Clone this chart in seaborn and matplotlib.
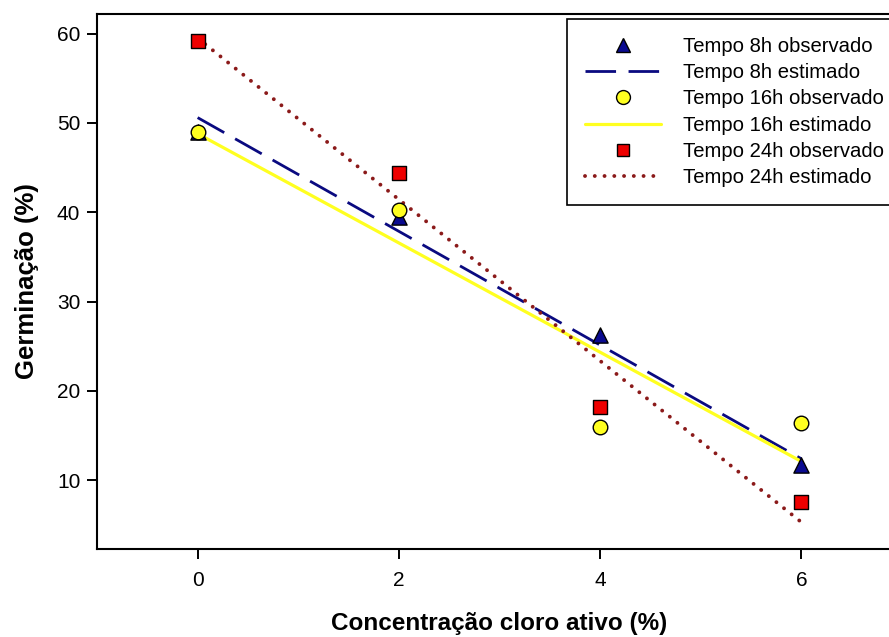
import matplotlib
matplotlib.use("Agg")
import matplotlib.pyplot as plt
import seaborn as sns
import pandas as pd
from matplotlib.lines import Line2D

# ---- data ----
conc = [0, 2, 4, 6]
obs_8h = [49.0, 39.5, 26.3, 11.7]
obs_16h = [49.0, 40.2, 16.0, 16.4]
obs_24h = [59.2, 44.4, 18.2, 7.6]

fit_x = [0, 6]
est_8h = [50.6, 12.4]
est_16h = [48.8, 12.1]
est_24h = [59.5, 5.3]

xticks = [0, 2, 4, 6]
yticks = [10, 20, 30, 40, 50, 60]

labels = ["Tempo 8h observado", "Tempo 8h estimado", "Tempo 16h observado",
          "Tempo 16h estimado", "Tempo 24h observado", "Tempo 24h estimado"]

sns.set_theme(style="ticks")
plt.rcParams['font.family'] = ['Liberation Sans', 'DejaVu Sans']
plt.rcParams['text.color'] = 'black'
plt.rcParams['axes.labelcolor'] = 'black'
plt.rcParams['xtick.color'] = 'black'
plt.rcParams['ytick.color'] = 'black'

W, H = 889, 637
fig = plt.figure(figsize=(W / 100, H / 100), dpi=100)
left, right, top, bottom = 97, 902, 14, 549
ax = fig.add_axes([left / W, (H - bottom) / H, (right - left) / W, (bottom - top) / H])

df_obs = pd.DataFrame({"x": conc, "o8": obs_8h, "o16": obs_16h, "o24": obs_24h})
df_est = pd.DataFrame({"x": fit_x, "e8": est_8h, "e16": est_16h, "e24": est_24h})

C8L, C8M = "#0a0a80", "#0a0a90"
C16 = "#ffff20"
C24L, C24M = "#8b1a1a", "#ee0000"

# estimated lines
sns.lineplot(data=df_est, x="x", y="e8", ax=ax, color=C8L, lw=2.0, zorder=2)
ax.lines[-1].set_dashes((11, 4.5))
sns.lineplot(data=df_est, x="x", y="e16", ax=ax, color=C16, lw=2.3, zorder=2)
sns.lineplot(data=df_est, x="x", y="e24", ax=ax, color=C24L, lw=2.8, zorder=2)
ax.lines[-1].set_dashes((0.01, 2.5))
ax.lines[-1].set_dash_capstyle("round")

# observed markers
sns.scatterplot(data=df_obs, x="x", y="o8", ax=ax, marker="^", s=120,
                color=C8M, edgecolor="black", linewidth=1.0, zorder=3)
sns.scatterplot(data=df_obs, x="x", y="o24", ax=ax, marker="s", s=90,
                color=C24M, edgecolor="black", linewidth=1.0, zorder=3)
sns.scatterplot(data=df_obs, x="x", y="o16", ax=ax, marker="o", s=110,
                color=C16, edgecolor="black", linewidth=1.0, zorder=4)

ax.set_xlim(-1, 7)
ax.set_ylim(2.3, 62.2)
ax.set_xticks(xticks)
ax.set_yticks(yticks)
ax.tick_params(axis="both", direction="out", length=7, width=1.4, color="black",
               labelsize=15, pad=5)
ax.tick_params(axis="x", pad=9)
for side in ["left", "bottom", "top"]:
    ax.spines[side].set_visible(True)
    ax.spines[side].set_color("black")
    ax.spines[side].set_linewidth(1.5)
ax.spines["right"].set_visible(False)

ax.set_xlabel("Concentração cloro ativo (%)", fontsize=17.5, fontweight="bold", labelpad=16)
ax.set_ylabel("Germinação (%)", fontsize=18.5, fontweight="bold", labelpad=13)

handles = [
    Line2D([], [], ls="none", marker="^", ms=10.5, mfc=C8M, mec="black", mew=1.0),
    Line2D([], [], color=C8L, lw=2.0, dashes=(11, 4.5)),
    Line2D([], [], ls="none", marker="o", ms=10, mfc=C16, mec="black", mew=1.0),
    Line2D([], [], color=C16, lw=2.3),
    Line2D([], [], ls="none", marker="s", ms=9, mfc=C24M, mec="black", mew=1.0),
    Line2D([], [], color=C24L, lw=2.8, dashes=(0.01, 2.5), dash_capstyle="round"),
]
leg = ax.legend(handles, labels, loc="upper left",
                bbox_to_anchor=((567 - left) / (right - left), (bottom - 19) / (bottom - top)),
                frameon=True, fancybox=False, fontsize=14.6, handlelength=3.75,
                handletextpad=1.1, labelspacing=0.36, borderpad=0.88, numpoints=1,
                borderaxespad=0)
leg.get_frame().set_edgecolor("black")
leg.get_frame().set_linewidth(1.2)
leg.get_frame().set_alpha(1)

fig.savefig("out.png", dpi=100)
